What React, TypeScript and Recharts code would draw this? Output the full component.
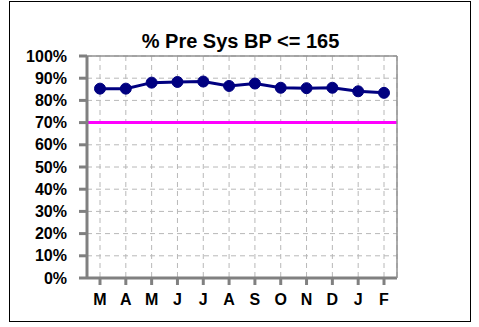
import { LineChart, Line, XAxis, YAxis, CartesianGrid, ReferenceLine } from "recharts";

const months = ["M", "A", "M", "J", "J", "A", "S", "O", "N", "D", "J", "F"];
const pctUnder165 = [85.3, 85.3, 88.0, 88.3, 88.5, 86.5, 87.6, 85.7, 85.5, 85.7, 84.1, 83.4];
const target = 70;
const yTicks = [0, 10, 20, 30, 40, 50, 60, 70, 80, 90, 100];

const data = months.map((m, i) => ({ month: m, pct: pctUnder165[i] }));

const font = "'Liberation Sans', Arial, sans-serif";

export default function App() {
  return (
    <div style={{ position: "absolute", left: 0, top: 0, width: 479, height: 327, background: "#fff" }}>
      <div
        style={{
          position: "absolute",
          left: 9,
          top: 1,
          width: 460,
          height: 319,
          border: "1px solid #000",
        }}
      />
      <div
        style={{
          position: "absolute",
          left: 0,
          top: 30,
          width: 481,
          textAlign: "center",
          fontFamily: font,
          fontWeight: "bold",
          fontSize: 20,
          color: "#000",
        }}
      >
        % Pre Sys BP &lt;= 165
      </div>
      <div style={{ position: "absolute", left: 0, top: 0 }}>
        <LineChart width={479} height={327} data={data} margin={{ top: 56, right: 0, left: 0, bottom: 0 }}>
          <CartesianGrid stroke="#b8b8b8" strokeDasharray="5 4" strokeWidth={1} />
          <XAxis
            dataKey="month"
            height={49}
            interval={0}
            padding={{ left: 13, right: 13 }}
            axisLine={{ stroke: "#808080", strokeWidth: 3 }}
            tickLine={{ stroke: "#808080", strokeWidth: 3 }}
            tickSize={7}
            tickMargin={9}
            tick={{ fill: "#000", fontSize: 16, fontWeight: "bold", fontFamily: font }}
          />
          <YAxis
            width={87}
            domain={[0, 100]}
            ticks={yTicks}
            interval={0}
            tickFormatter={(v) => `${v}%`}
            axisLine={{ stroke: "#808080", strokeWidth: 3 }}
            tickLine={{ stroke: "#808080", strokeWidth: 3 }}
            tickSize={8}
            tickMargin={12}
            tick={{ fill: "#000", fontSize: 16, fontWeight: "bold", fontFamily: font }}
          />
          <YAxis
            yAxisId="right"
            orientation="right"
            width={82}
            domain={[0, 100]}
            tick={false}
            tickLine={false}
            axisLine={{ stroke: "#909090", strokeWidth: 1.5 }}
          />
          <ReferenceLine y={100} stroke="#909090" strokeWidth={1.5} />
          <ReferenceLine y={target} stroke="#ff00ff" strokeWidth={3} />
          <Line
            dataKey="pct"
            stroke="#000080"
            strokeWidth={3}
            dot={{ r: 5.5, fill: "#000080", stroke: "#000080", strokeWidth: 1 }}
            isAnimationActive={false}
          />
        </LineChart>
      </div>
    </div>
  );
}
